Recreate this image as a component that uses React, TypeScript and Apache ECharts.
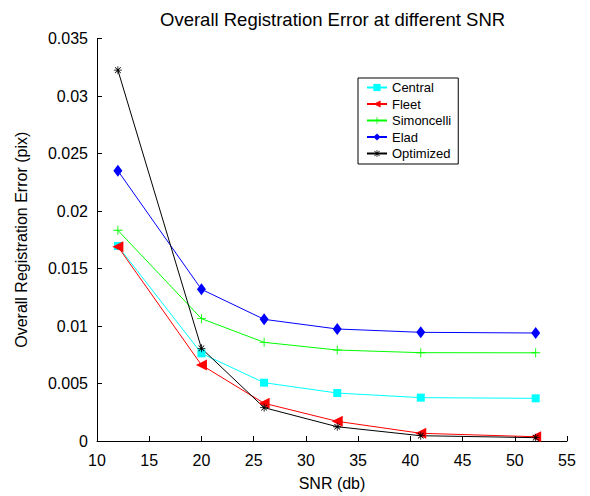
import React, { useEffect, useRef } from "react";
import * as echarts from "echarts";

const snr = [12, 20, 26, 33, 41, 52];
const central = [0.01696, 0.00762, 0.00507, 0.00417, 0.00377, 0.00371];
const fleet = [0.0169, 0.00661, 0.00328, 0.00171, 0.00067, 0.00037];
const simoncelli = [0.01832, 0.01064, 0.00858, 0.00791, 0.00768, 0.00767];
const elad = [0.0235, 0.01319, 0.01058, 0.00974, 0.00945, 0.00939];
const optimized = [0.03225, 0.00806, 0.0029, 0.00124, 0.00046, 0.00029];

const seriesNames = ["Central", "Fleet", "Simoncelli", "Elad", "Optimized"];

const plusPath =
  "path://M-1,-10 L1,-10 L1,10 L-1,10 Z M-10,-1 L10,-1 L10,1 L-10,1 Z";
const starPath =
  "path://M-1,-10 L1,-10 L1,10 L-1,10 Z M-10,-1 L10,-1 L10,1 L-10,1 Z " +
  "M6.36,-7.78 L7.78,-6.36 L-6.36,7.78 L-7.78,6.36 Z " +
  "M-7.78,-6.36 L-6.36,-7.78 L7.78,6.36 L6.36,7.78 Z";

const FONT = "Liberation Sans, Arial, sans-serif";

export default function App() {
  const ref = useRef<HTMLDivElement>(null);
  useEffect(() => {
    if (!ref.current) return;
    const chart = echarts.init(ref.current, undefined, { renderer: "svg" });
    const mk = (name: string, data: number[], color: string, symbol: string, size: any, rotate = 0) => ({
      name,
      type: "line",
      data: snr.map((x, i) => [x, data[i]]),
      symbol,
      symbolSize: size,
      symbolRotate: rotate,
      lineStyle: { color, width: 1 },
      itemStyle: { color },
      z: 3,
    });
    chart.setOption({
      animation: false,
      backgroundColor: "#fff",
      textStyle: { fontFamily: FONT },
      title: {
        text: "Overall Registration Error at different SNR",
        left: 155,
        top: 5,
        textStyle: { fontFamily: FONT, fontSize: 18.5, fontWeight: "normal", color: "#000" },
      },
      legend: {
        data: seriesNames,
        orient: "vertical",
        left: 358,
        top: 78,
        padding: [3, 7, 4, 8],
        itemGap: 3.5,
        itemWidth: 20,
        itemHeight: 9,
        borderColor: "#000",
        borderWidth: 1,
        backgroundColor: "#fff",
        textStyle: { fontFamily: FONT, fontSize: 13, lineHeight: 13, color: "#000" },
      },
      grid: { left: 97, right: 23, top: 38.5, bottom: 55, containLabel: false },
      xAxis: {
        type: "value",
        min: 10,
        max: 55,
        interval: 5,
        name: "SNR (db)",
        nameLocation: "middle",
        nameGap: 34,
        nameTextStyle: { fontFamily: FONT, fontSize: 16, color: "#000" },
        axisLine: { lineStyle: { color: "#000", width: 1 } },
        axisTick: { inside: true, length: 5, lineStyle: { color: "#000" } },
        axisLabel: { fontFamily: FONT, fontSize: 16, color: "#000", margin: 11 },
        splitLine: { show: false },
      },
      yAxis: {
        type: "value",
        min: 0,
        max: 0.035,
        interval: 0.005,
        name: "Overall Registration Error (pix)",
        nameLocation: "middle",
        nameGap: 68,
        nameTextStyle: { fontFamily: FONT, fontSize: 16, color: "#000" },
        axisLine: { show: true, lineStyle: { color: "#000", width: 1 } },
        axisTick: { show: true, inside: true, length: 5, lineStyle: { color: "#000" } },
        axisLabel: { fontFamily: FONT, fontSize: 16, color: "#000", margin: 9 },
        splitLine: { show: false },
      },
      series: [
        mk("Central", central, "#00ffff", "rect", 8),
        mk("Fleet", fleet, "#ff0000", "triangle", 11, 90),
        mk("Simoncelli", simoncelli, "#00ff00", plusPath, 9),
        mk("Elad", elad, "#0000ff", "diamond", [9, 12]),
        mk("Optimized", optimized, "#000000", starPath, 8),
      ],
    });
    return () => chart.dispose();
  }, []);
  return (
    <div
      ref={ref}
      style={{ position: "absolute", left: 0, top: 0, width: 590, height: 496 }}
    />
  );
}
